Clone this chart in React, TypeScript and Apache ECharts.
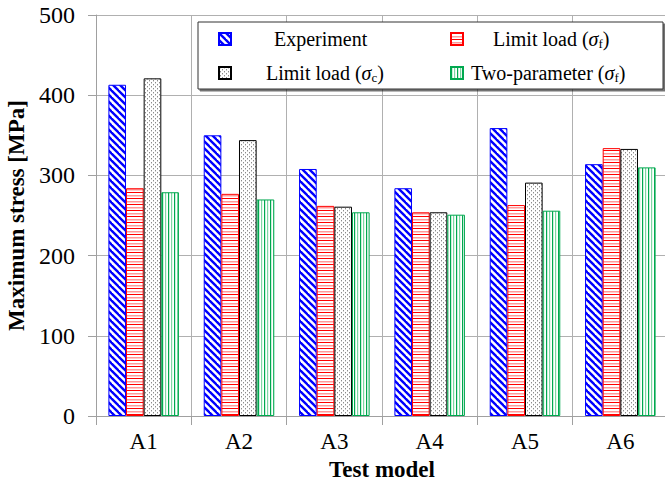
import React, { useEffect, useRef } from "react";
import * as echarts from "echarts";

const categories = ["A1", "A2", "A3", "A4", "A5", "A6"];
const seriesNames = ["Experiment", "Limit load (σf)", "Limit load (σc)", "Two-parameter (σf)"];
const experiment = [413, 350, 308, 284, 359, 314];
const limitLoadF = [284, 277, 262, 254, 263, 334];
const limitLoadC = [421, 344, 261, 254, 291, 333];
const twoParamF = [279, 270, 254, 251, 256, 310];
const yMin = 0;
const yMax = 500;
const yStep = 100;

const FONT = "Times New Roman";

function makePattern(w: number, h: number, draw: (ctx: CanvasRenderingContext2D) => void) {
  const c = document.createElement("canvas");
  c.width = w;
  c.height = h;
  const ctx = c.getContext("2d") as CanvasRenderingContext2D;
  ctx.fillStyle = "#ffffff";
  ctx.fillRect(0, 0, w, h);
  draw(ctx);
  return { image: c, repeat: "repeat" };
}

function buildPatterns() {
  const blue = makePattern(7, 7, (ctx) => {
    ctx.strokeStyle = "#0000ff";
    ctx.lineWidth = 2.4;
    for (let k = -1; k <= 1; k++) {
      ctx.beginPath();
      ctx.moveTo(k * 7 - 1, -1);
      ctx.lineTo(k * 7 + 8, 8);
      ctx.stroke();
    }
  });
  const red = makePattern(4, 6, (ctx) => {
    ctx.fillStyle = "#ff0000";
    ctx.fillRect(0, 0, 4, 1);
    ctx.fillStyle = "#ff9a9a";
    ctx.fillRect(0, 3, 4, 1.5);
  });
  const dots = makePattern(4, 4, (ctx) => {
    ctx.fillStyle = "#8c8c8c";
    ctx.fillRect(1, 0, 1, 1.4);
    ctx.fillRect(3, 2, 1, 1.4);
  });
  const green = makePattern(6, 4, (ctx) => {
    ctx.fillStyle = "#00a84f";
    ctx.fillRect(0, 0, 1.2, 4);
    ctx.fillStyle = "#7fd6a4";
    ctx.fillRect(3, 0, 1.2, 4);
  });
  return { blue, red, dots, green };
}

const legendLabel = (name: string) => {
  const m = name.match(/^(.*)\(σ(.)\)$/);
  if (!m) return `{t|${name}}`;
  return `{t|${m[1]}(}{sig|σ}{sub|${m[2]}}{t|)}`;
};

export default function App() {
  const ref = useRef<HTMLDivElement>(null);
  useEffect(() => {
    if (!ref.current) return;
    const chart = echarts.init(ref.current, undefined, { renderer: "svg" });
    const p = buildPatterns();
    const legendPos = [
      { name: seriesNames[0], left: 218, top: 29, pad: 38 },
      { name: seriesNames[1], left: 450, top: 29, pad: 25 },
      { name: seriesNames[2], left: 218, top: 63, pad: 30 },
      { name: seriesNames[3], left: 450, top: 63, pad: 3 },
    ];
    const styles = [
      { color: p.blue, borderColor: "#0000ff" },
      { color: p.red, borderColor: "#ff0000" },
      { color: p.dots, borderColor: "#000000" },
      { color: p.green, borderColor: "#00a84f" },
    ];
    const data = [experiment, limitLoadF, limitLoadC, twoParamF];
    const rich = {
      t: { fontFamily: FONT, fontSize: 20, color: "#000" },
      sig: { fontFamily: FONT, fontStyle: "italic", fontSize: 20, color: "#000" },
      sub: { fontFamily: FONT, fontSize: 13, color: "#000", padding: [9, 0, 0, 0] },
    };
    chart.setOption({
      animation: false,
      backgroundColor: "#ffffff",
      textStyle: { fontFamily: FONT },
      grid: {
        left: 96,
        top: 15,
        width: 572,
        height: 401,
        containLabel: false,
        outerBoundsMode: "none",
      },
      graphic: [
        {
          type: "rect",
          z: 5,
          shape: { x: 198, y: 22, width: 465, height: 67 },
          style: {
            fill: "#ffffff",
            stroke: "#333333",
            lineWidth: 1,
            shadowColor: "rgba(0,0,0,0.55)",
            shadowOffsetX: 2,
            shadowOffsetY: 2,
            shadowBlur: 0,
          },
        },
      ],
      legend: legendPos.map((l) => ({
        data: [l.name],
        left: l.left,
        top: l.top,
        padding: 0,
        itemWidth: 12,
        itemHeight: 12,
        icon: "rect",
        selectedMode: false,
        z: 10,
        formatter: legendLabel,
        textStyle: {
          fontFamily: FONT,
          fontSize: 20,
          color: "#000",
          padding: [0, 0, 0, l.pad],
          rich,
        },
      })),
      xAxis: {
        type: "category",
        data: categories,
        name: "Test model",
        nameLocation: "middle",
        nameGap: 41,
        nameTextStyle: { fontFamily: FONT, fontSize: 23, fontWeight: "bold", color: "#000" },
        axisLine: { lineStyle: { color: "#a0a0a0", width: 1 } },
        axisTick: { show: true, length: 9, lineStyle: { color: "#a0a0a0" } },
        axisLabel: { fontFamily: FONT, fontSize: 23, color: "#000", margin: 14 },
        splitLine: { show: true, lineStyle: { color: "#b0b0b0", width: 1 } },
      },
      yAxis: {
        type: "value",
        min: yMin,
        max: yMax,
        interval: yStep,
        name: "Maximum stress [MPa]",
        nameLocation: "middle",
        nameGap: 54,
        nameTextStyle: { fontFamily: FONT, fontSize: 23, fontWeight: "bold", color: "#000" },
        axisLine: { show: true, lineStyle: { color: "#a0a0a0", width: 1 } },
        axisTick: { show: true, length: 8, lineStyle: { color: "#a0a0a0" } },
        axisLabel: { fontFamily: FONT, fontSize: 24, color: "#000", margin: 21 },
        splitLine: { show: true, lineStyle: { color: "#b0b0b0", width: 1 } },
      },
      series: seriesNames.map((name, i) => ({
        name,
        type: "bar",
        data: data[i],
        barGap: "0%",
        barCategoryGap: "26%",
        z: 2,
        itemStyle: {
          color: styles[i].color,
          borderColor: styles[i].borderColor,
          borderWidth: 1,
        },
      })),
    });
    return () => chart.dispose();
  }, []);
  return (
    <div
      ref={ref}
      style={{ position: "fixed", left: 0, top: 0, width: 665, height: 483, overflow: "hidden" }}
    />
  );
}
